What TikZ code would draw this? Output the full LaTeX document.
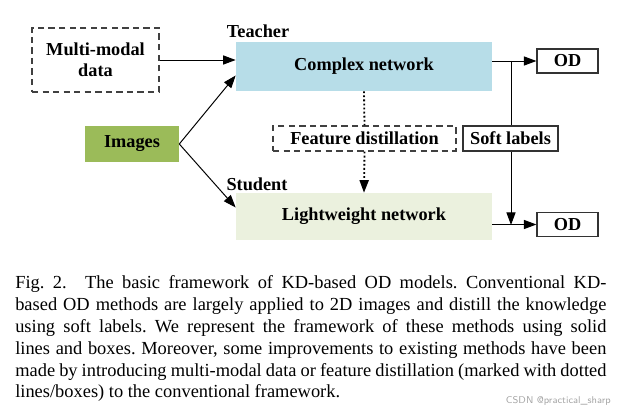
\documentclass[tikz,border=0pt]{standalone}
\usepackage{fontspec}
\setmainfont{Liberation Serif}
\usetikzlibrary{arrows.meta}

\definecolor{teachblue}{HTML}{B7DDE8}
\definecolor{imggreen}{HTML}{9BBB59}
\definecolor{studgreen}{HTML}{EBF1DE}

\begin{document}
\begin{tikzpicture}[x=0.025cm,y=-0.025cm,
    every node/.style={font=\fontsize{13}{15}\selectfont\bfseries},
    dashbox/.style={draw=black!75,line width=0.9pt,dash pattern=on 4.5pt off 3pt,inner sep=0pt,align=center},
    solidbox/.style={draw=black!80,line width=0.8pt,inner sep=0pt},
    fillbox/.style={inner sep=0pt},
    arr/.style={-{Triangle[length=9pt,width=6.5pt]},line width=0.7pt},
    dotarr/.style={line width=1.3pt,dash pattern=on 1.3pt off 1.6pt},
    caption/.style={font=\fontsize{13.1}{15.6}\selectfont\frenchspacing,inner sep=0pt,text width=14.775cm,align=justify}]
  \useasboundingbox (0,0) rectangle (622,413);
  \node[dashbox,minimum width=3.175cm,minimum height=1.6cm] (mmdata) at (95.5,60) {Multi-modal\\data};
  \node[fillbox,fill=teachblue,minimum width=6.4cm,minimum height=1.225cm] (cnet) at (364,66.5) {Complex network};
  \node[fillbox,fill=imggreen,minimum width=2.35cm,minimum height=0.9cm] (images) at (132,144) {Images};
  \node[fillbox,fill=studgreen,minimum width=6.4cm,minimum height=1.175cm] (lnet) at (364,216.5) {Lightweight network};
  \node[dashbox,minimum width=4.575cm,minimum height=0.625cm] (featdist) at (364.5,138.5) {Feature distillation};
  \node[inner sep=0pt] (teacher) at (258,31) {Teacher};
  \node[inner sep=0pt] (student) at (257,184) {Student};
  \node[solidbox,minimum width=1.525cm,minimum height=0.6cm] (odtop) at (567.5,61) {OD};
  \node[solidbox,minimum width=1.525cm,minimum height=0.6cm] (odbot) at (567.5,224.5) {OD};
  \coordinate (split) at (511,61);
  \coordinate (merge) at (511,225);
  \draw[arr] (mmdata.east) -- (mmdata.east -| cnet.west);
  \draw[arr] (images.east) -- (cnet.184);
  \draw[arr] (images.east) -- (lnet.176);
  \draw[arr] (cnet.east |- odtop) -- (odtop);
  \draw[arr] (lnet.east |- odbot) -- (odbot);
  \draw[arr] (split) -- (merge);
  \node[solidbox,fill=white,minimum width=2.375cm,minimum height=0.625cm] (softlab) at (510.5,138.5) {Soft labels};
  \draw[dotarr] (cnet.south) -- (featdist.north);
  \draw[dotarr,-{Triangle[length=9pt,width=6.5pt]}] (featdist.south) -- (lnet.north);
  \node[caption,anchor=north west] (cap) at (15,275) {Fig. 2.\quad The basic framework of KD-based OD models. Conventional KD-\linebreak
    based OD methods are largely applied to 2D images and distill the knowledge\linebreak
    using soft labels. We represent the framework of these methods using solid\linebreak
    lines and boxes. Moreover, some improvements to existing methods have been\linebreak
    made by introducing multi-modal data or feature distillation (marked with dotted\linebreak
    lines/boxes) to the conventional framework.};
  \node[font=\fontsize{7}{8}\selectfont\sffamily,text=black!35,anchor=east,inner sep=0pt] (mark) at (611,401) {CSDN @practical\_sharp};
\end{tikzpicture}
\end{document}
